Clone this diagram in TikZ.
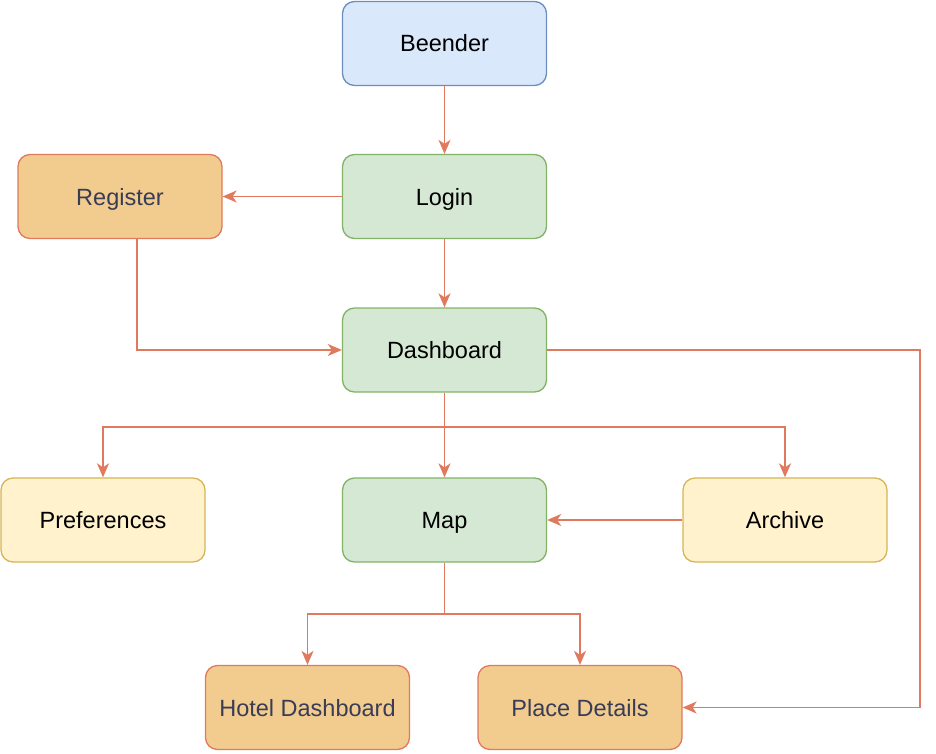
\documentclass[tikz,border=0pt]{standalone}
\usepackage{fontspec}
\setmainfont{Liberation Sans}
\usetikzlibrary{arrows.meta,calc}
\definecolor{bfill}{HTML}{DAE8FC}\definecolor{bdraw}{HTML}{6C8EBF}
\definecolor{gfill}{HTML}{D5E8D4}\definecolor{gdraw}{HTML}{82B366}
\definecolor{yfill}{HTML}{FFF2CC}\definecolor{ydraw}{HTML}{D6B656}
\definecolor{ofill}{HTML}{F2CC8F}\definecolor{odraw}{HTML}{E07A5F}
\definecolor{otext}{HTML}{393C56}
\definecolor{edge}{HTML}{E07A5F}
\begin{document}
\begin{tikzpicture}[x=1pt,y=-1pt,
  box/.style={rounded corners=12pt,minimum width=204pt,minimum height=84pt,line width=1.3pt,
    font=\fontsize{23.5}{28}\selectfont,inner sep=0pt,text height=20pt,text depth=3pt},
  bluebox/.style={box,fill=bfill,draw=bdraw,text=black},
  greenbox/.style={box,fill=gfill,draw=gdraw,text=black},
  yellowbox/.style={box,fill=yfill,draw=ydraw,text=black},
  orangebox/.style={box,fill=ofill,draw=odraw,text=otext},
  conn/.style={draw=edge,line width=1.6pt,-{Stealth[length=14pt,width=12pt,inset=4pt]}}]
\useasboundingbox (0,0) rectangle (936,754);
\node[bluebox] (beender) at (444.5,43.5) {Beender};
\node[greenbox] (login) at (444.5,196.5) {Login};
\node[orangebox] (register) at (120,196.5) {Register};
\node[greenbox] (dash) at (444.5,350) {Dashboard};
\node[yellowbox] (pref) at (103,520) {Preferences};
\node[greenbox] (map) at (444.5,520) {Map};
\node[yellowbox] (arch) at (785,520) {Archive};
\node[orangebox] (hotel) at (307.5,707.5) {Hotel Dashboard};
\node[orangebox] (place) at (580,707.5) {Place Details};
\coordinate (regout) at (137,239);
\coordinate (split1) at (444.5,427);
\coordinate (split2) at (444.5,614);
\coordinate (rightx) at (920,350);
\draw[conn] (beender) -- (login);
\draw[conn] (login) -- (register);
\draw[conn] (login) -- (dash);
\draw[conn] (regout) |- (dash.west);
\draw[conn] (dash) -- (map);
\draw[conn] (split1) -| (pref.north);
\draw[conn] (split1) -| (arch.north);
\draw[conn] (arch) -- (map);
\draw[conn] (map.south) -- (split2) -| (hotel.north);
\draw[conn] (split2) -| (place.north);
\draw[conn] (dash.east) -- (rightx) |- (place.east);
\end{tikzpicture}
\end{document}
